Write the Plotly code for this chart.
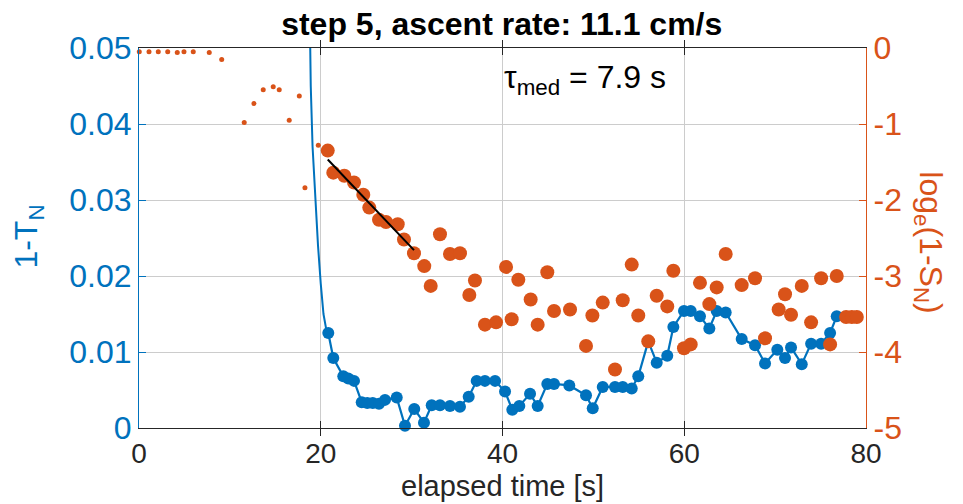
import plotly.graph_objects as go

BLUE = "#0072BD"
ORANGE = "#D95319"
DARK = "#262626"
FONT = "Liberation Sans, Arial, Helvetica, sans-serif"

# ---- data ----
# 1 - T_N, early steep curve (line only)
blue_line_t = [18.5, 18.7, 18.9, 19.1, 19.4, 19.7, 20.0, 20.3, 20.6, 20.83]
blue_line_v = [0.080, 0.060, 0.045, 0.037, 0.030, 0.024, 0.019, 0.015, 0.013, 0.0125]

# 1 - T_N, sampled points (markers + line)
blue_t = [20.83, 21.38, 22.48, 23.03, 23.66, 24.51, 25.12, 25.72, 26.41, 27.07,
          28.36, 29.27, 30.29, 31.36, 32.21, 33.12, 34.22, 35.32, 36.28, 37.16,
          38.07, 39.18, 40.28, 41.08, 41.85, 43.03, 43.87, 44.93, 45.67, 47.35,
          49.19, 49.93, 51.03, 52.38, 53.23, 54.22, 54.94, 56.04, 56.97, 58.13,
          58.80, 59.97, 60.71, 61.73, 62.76, 63.57, 64.56, 66.32, 67.79, 68.89,
          70.24, 71.09, 71.75, 72.93, 73.96, 75.06, 76.05, 76.78]
blue_v = [0.0125, 0.0092, 0.0068, 0.0065, 0.0062, 0.0034, 0.0033, 0.0033, 0.0032, 0.0037,
          0.0040, 0.0003, 0.0025, 0.0007, 0.0030, 0.0030, 0.0029, 0.0028, 0.0041, 0.0062,
          0.0062, 0.0062, 0.0048, 0.0024, 0.0029, 0.0045, 0.0029, 0.0058, 0.0058, 0.0056,
          0.0043, 0.0026, 0.0054, 0.0054, 0.0054, 0.0052, 0.0068, 0.0114, 0.0086, 0.0095,
          0.0133, 0.0154, 0.0154, 0.0147, 0.0131, 0.0154, 0.0152, 0.0117, 0.0109, 0.0085,
          0.0103, 0.0092, 0.0106, 0.0084, 0.0111, 0.0111, 0.0125, 0.0147]

# log_e(1 - S_N), early small dots
orange_small_t = [0.03, 1.1, 2.12, 3.16, 4.21, 4.95, 5.97, 7.73, 9.1, 10.56,
                  11.58, 12.65, 13.67, 14.77, 15.43, 16.53, 17.64, 18.26, 19.73]
orange_small_v = [-0.05, -0.05, -0.05, -0.05, -0.06, -0.05, -0.05, -0.06, -0.15, 0.02,
                  -0.98, -0.73, -0.55, -0.51, -0.55, -0.95, -0.63, -1.84, -1.28]

# log_e(1 - S_N), large markers
orange_t = [20.77, 21.38, 22.59, 23.66, 24.68, 25.34, 26.41, 27.18, 28.47, 29.16,
            30.26, 31.39, 32.10, 33.12, 34.22, 35.32, 36.35, 36.97, 38.07, 39.29,
            40.39, 41.01, 41.74, 43.10, 43.87, 44.93, 45.67, 47.43, 49.19, 49.89,
            51.03, 52.38, 53.23, 54.22, 54.94, 56.04, 56.97, 58.13, 58.80, 59.97,
            60.71, 61.73, 62.76, 63.57, 64.56, 66.32, 67.79, 68.89, 70.39, 71.09,
            71.75, 72.93, 73.96, 75.06, 76.05, 76.78, 77.81, 78.44, 78.99]
orange_v = [-1.35, -1.64, -1.68, -1.77, -1.93, -2.10, -2.26, -2.29, -2.32, -2.52,
            -2.70, -2.87, -3.13, -2.45, -2.71, -2.70, -3.25, -3.06, -3.64, -3.61,
            -2.88, -3.57, -3.05, -3.31, -3.64, -2.95, -3.46, -3.44, -3.92, -3.52,
            -3.35, -4.23, -3.32, -2.85, -3.52, -3.86, -3.26, -3.40, -2.93, -3.95,
            -3.90, -3.09, -3.37, -3.15, -2.71, -3.12, -3.03, -3.82, -3.44, -3.24,
            -3.51, -3.13, -3.61, -3.03, -3.90, -3.00, -3.54, -3.54, -3.54]

# exponential fit (straight line in log space)
fit_t = [20.77, 30.26]
fit_v = [-1.467, -2.66]

x_ticks = [0, 20, 40, 60, 80]
y1_ticks = [0, 0.01, 0.02, 0.03, 0.04, 0.05]
y1_labels = ["0", "0.01", "0.02", "0.03", "0.04", "0.05"]
y2_ticks = [-5, -4, -3, -2, -1, 0]
y2_labels = ["-5", "-4", "-3", "-2", "-1", "0"]

title_text = "<b>step 5, ascent rate: 11.1 cm/s</b>"
tau_text = "τ<sub>med</sub> = 7.9 s"
xlabel_text = "elapsed time [s]"

FS = 32

fig = go.Figure()

fig.add_trace(go.Scatter(x=blue_line_t, y=blue_line_v, mode="lines",
                         line=dict(color=BLUE, width=2), yaxis="y",
                         showlegend=False, hoverinfo="skip"))
fig.add_trace(go.Scatter(x=blue_t, y=blue_v, mode="lines+markers",
                         line=dict(color=BLUE, width=2.2),
                         marker=dict(color=BLUE, size=12),
                         yaxis="y", cliponaxis=False, showlegend=False))
fig.add_trace(go.Scatter(x=orange_small_t, y=orange_small_v, mode="markers",
                         marker=dict(color=ORANGE, size=5),
                         yaxis="y2", cliponaxis=False, showlegend=False))
fig.add_trace(go.Scatter(x=orange_t, y=orange_v, mode="markers",
                         marker=dict(color=ORANGE, size=14),
                         yaxis="y2", cliponaxis=False, showlegend=False))
fig.add_trace(go.Scatter(x=fit_t, y=fit_v, mode="lines",
                         line=dict(color="black", width=2),
                         yaxis="y2", showlegend=False))

fig.update_layout(
    width=963, height=504,
    margin=dict(l=139, r=97, t=48, b=76),
    paper_bgcolor="white", plot_bgcolor="white",
    font=dict(family=FONT, size=FS, color=DARK),
    title=dict(text=title_text, x=0.521, xanchor="center", y=0.953, yanchor="middle",
               yref="container", font=dict(size=FS, color="black", family=FONT)),
    xaxis=dict(range=[0, 80], tickvals=x_ticks, ticks="inside", ticklen=7,
               tickcolor=DARK, showline=True, linecolor=DARK, linewidth=1.2,
               mirror="allticks", showgrid=True, gridcolor="#cccccc", gridwidth=1.3,
               zeroline=False, tickfont=dict(size=28, color=DARK)),
    yaxis=dict(range=[0, 0.05], tickvals=y1_ticks, ticktext=y1_labels,
               ticks="inside", ticklen=7, tickcolor=BLUE,
               showline=True, linecolor=BLUE, linewidth=1.2,
               showgrid=True, gridcolor="#cccccc", gridwidth=1.3, zeroline=False,
               tickfont=dict(size=FS, color=BLUE)),
    yaxis2=dict(range=[-5, 0], tickvals=y2_ticks, ticktext=y2_labels,
                overlaying="y", side="right", ticks="inside", ticklen=7,
                tickcolor=ORANGE, showline=True, linecolor=ORANGE, linewidth=1.2,
                showgrid=False, zeroline=False,
                tickfont=dict(size=FS, color=ORANGE)),
    annotations=[
        dict(text=xlabel_text, xref="paper", yref="paper",
             x=0.5, y=-0.152, xanchor="center", yanchor="middle",
             showarrow=False, font=dict(size=29, color=DARK, family=FONT)),
        dict(text="1-T<sub>N</sub>", xref="paper", yref="paper",
             x=-0.152, y=0.505, xanchor="center", yanchor="middle",
             textangle=-90, showarrow=False,
             font=dict(size=FS, color=BLUE, family=FONT)),
        dict(text="log<sub>e</sub>(1-S<sub>N</sub>)", xref="paper", yref="paper",
             x=1.086, y=0.49, xanchor="center", yanchor="middle",
             textangle=90, showarrow=False,
             font=dict(size=FS, color=ORANGE, family=FONT)),
        dict(text=tau_text, xref="x", yref="y", x=39.9, y=0.0458,
             xanchor="left", yanchor="middle", showarrow=False,
             font=dict(size=FS, color="black", family=FONT)),
    ],
)

fig.write_html("out.html")
